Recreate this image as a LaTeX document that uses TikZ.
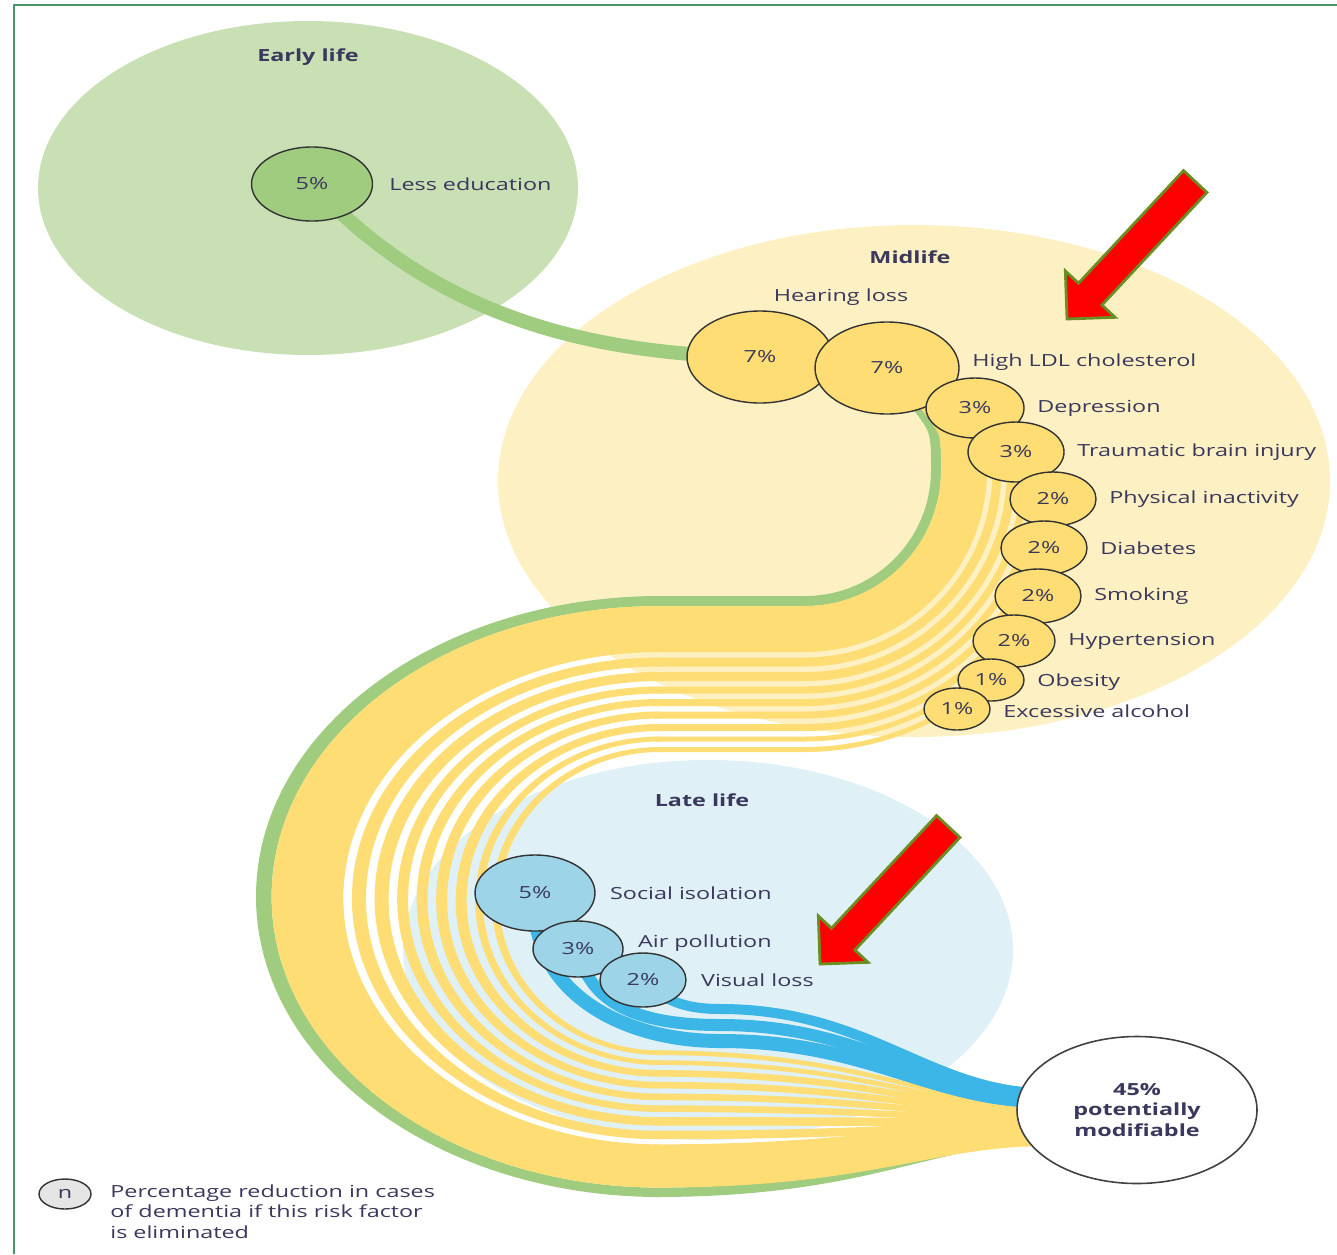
\documentclass[tikz,border=0pt]{standalone}
\usepackage{fontspec}
\setmainfont{Open Sans}[FakeStretch=1.4]
\usetikzlibrary{shapes.geometric,positioning,backgrounds}
\definecolor{earlybg}{RGB}{201,224,181}
\definecolor{midbg}{RGB}{253,241,196}
\definecolor{latebg}{RGB}{223,240,247}
\definecolor{edugreen}{RGB}{160,204,128}
\definecolor{riskyellow}{RGB}{254,221,116}
\definecolor{riskblue}{RGB}{157,212,231}
\definecolor{flowblue}{RGB}{59,182,230}
\definecolor{labelink}{RGB}{58,56,92}
\definecolor{framegreen}{RGB}{72,146,108}
\definecolor{arrowrim}{RGB}{107,142,35}
\begin{document}
\begin{tikzpicture}[x=0.02cm,y=0.02cm,line join=round,font=\fontsize{9.5}{11.9}\selectfont,
    every node/.style={text=labelink},
    risk/.style={ellipse,draw=black!80,line width=0.8pt,inner sep=0pt},
    yrisk/.style={risk,fill=riskyellow},
    brisk/.style={risk,fill=riskblue},
    lbl/.style={inner sep=0pt},
    zone/.style={font=\fontsize{9.5}{11.9}\selectfont\bfseries},
    redarrow/.style={fill=red,draw=arrowrim,line width=1.6pt,line join=miter}]
\useasboundingbox (0,0) rectangle (1337,-1254);
\node[zone] (early) at (308,-57) {Early life};
\node[zone] (mid) at (910,-257) {Midlife};
\node[zone] (late) at (702,-800) {Late life};
\node[risk,fill=edugreen,minimum width=121*0.02cm,minimum height=74*0.02cm] (edu) at (312,-184) {5\%};
\node[lbl,right=9pt of edu] (edu-lbl) {Less education};
\node[yrisk,minimum width=146*0.02cm,minimum height=92*0.02cm] (hear) at (760,-357) {7\%};
\node[lbl] (hear-lbl) at (841,-297) {Hearing loss};
\foreach \nm/\px/\py/\rx/\ry/\dy/\pc/\txt in {ldl/887/368/72/46/6/7/High LDL cholesterol,
    dep/975/408/49/30/0/3/Depression, tbi/1016/452/48/30/0/3/Traumatic brain injury,
    phys/1053/499/43/27/0/2/Physical inactivity, diab/1044/548/43/27/0/2/Diabetes,
    smok/1038/596/43/27/0/2/Smoking, hyp/1014/641/41/26/0/2/Hypertension,
    obes/991/680/33/21/-2/1/Obesity, alco/957/709/33/21/-2/1/Excessive alcohol}{
  \node[yrisk,minimum width=2*\rx*0.02cm,minimum height=2*\ry*0.02cm] (\nm) at (\px,-\py) {\pc\%};
  \node[lbl,right=7pt of \nm,yshift=\dy*0.02cm] (\nm-lbl) {\txt};
}
\foreach \nm/\px/\py/\rx/\ry/\dy/\pc/\txt in {soc/535/893/60/38/0/5/Social isolation,
    air/578/949/45/28/6/3/Air pollution, vis/643/980/43/27/0/2/Visual loss}{
  \node[brisk,minimum width=2*\rx*0.02cm,minimum height=2*\ry*0.02cm] (\nm) at (\px,-\py) {\pc\%};
  \node[lbl,right=8pt of \nm,yshift=\dy*0.02cm] (\nm-lbl) {\txt};
}
\node[ellipse,draw=black!75,line width=0.9pt,fill=white,minimum width=240*0.02cm,minimum height=147*0.02cm,
    align=center,font=\fontsize{9.5}{11.6}\selectfont\bfseries] (mod) at (1137,-1110) {45\%\\potentially\\modifiable};
\node[risk,fill=black!10,minimum width=52*0.02cm,minimum height=30*0.02cm] (key) at (65,-1194) {n};
\node[lbl,anchor=north west,align=left] (key-lbl) at (110,-1184) {Percentage reduction in cases\\of dementia if this risk factor\\is eliminated};
\begin{pgfonlayer}{background}
  \fill[earlybg] (308,-188) ellipse[x radius=270,y radius=167];
  \fill[midbg] (914,-481) ellipse[x radius=416,y radius=256];
  \fill[latebg] (708,-950) ellipse[x radius=305,y radius=190];
  \draw[edugreen,line width=14*0.02cm] (edu.center) .. controls (420,-300) and (560,-355) .. (hear.center);
  \foreach \uo/\ui/\ang/\col in {0/10/0/edugreen, 10/33/0/riskyellow, 32.5/56/0/riskyellow,
      61.5/70.5/0/riskyellow, 76/85/0/riskyellow, 90.5/97.5/8/riskyellow, 103/110/20/riskyellow,
      115.5/122.5/31/riskyellow, 128/135/41/riskyellow, 140.5/145.5/51/riskyellow, 151/156/59/riskyellow}{
    \pgfmathsetmacro\uc{(\uo+\ui)/2}
    \pgfmathsetmacro\R{126+\uc}
    \pgfmathsetmacro\ye{1140-0.22*\uc}
    \ifnum\ang=0 \def\lead{(805+\R-24,-400) .. controls (805+\R,-430) ..}\else\def\lead{}\fi
    \draw[\col,line width=(\ui-\uo)*0.02cm] \lead ([shift={(805,-470)}]-\ang:\R)
      arc[start angle=-\ang,end angle=-90,radius=\R] -- (655,-470-\R);
    \fill[\col] (660,-596-\uo) arc[start angle=90,end angle=270,x radius={404-1.56*\uo},y radius={300.5-0.97*\uo}]
      -- (660,-1197+0.94*\ui) arc[start angle=270,end angle=90,x radius={404-1.56*\ui},y radius={300.5-0.97*\ui}] -- cycle;
    \draw[\col,line width=0.94*(\ui-\uo)*0.02cm] (655,-1197+0.94*\uc) .. controls (870,-1197+0.94*\uc) and (930,-\ye)
      .. ([shift={(30,1110-\ye)}]mod.west);
  }
  \draw[flowblue,line width=14*0.02cm] (soc.center) .. controls (528,-990) and (620,-1041) .. (720,-1041)
    .. controls (870,-1041) and (930,-1101) .. ([shift={(30,9)}]mod.west);
  \draw[flowblue,line width=12*0.02cm] (air.center) .. controls (590,-1010) and (650,-1025) .. (720,-1025)
    .. controls (870,-1025) and (930,-1097) .. ([shift={(30,13)}]mod.west);
  \draw[flowblue,line width=10*0.02cm] (vis.center) .. controls (665,-1003) and (690,-1009) .. (720,-1009)
    .. controls (870,-1009) and (930,-1093) .. ([shift={(30,17)}]mod.west);
\end{pgfonlayer}
\foreach \tx/\ty in {1067/319,820/964}
  \draw[redarrow,shift={(\tx,-\ty)},rotate=227] (0,0) -- (-34,34) -- (-34,16) -- (-188,16) -- (-188,-16) -- (-34,-16) -- (-34,-34) -- cycle;
\draw[framegreen,line width=1.7pt] (14,-1254) -- (14,-5) -- (1337,-5);
\end{tikzpicture}
\end{document}
